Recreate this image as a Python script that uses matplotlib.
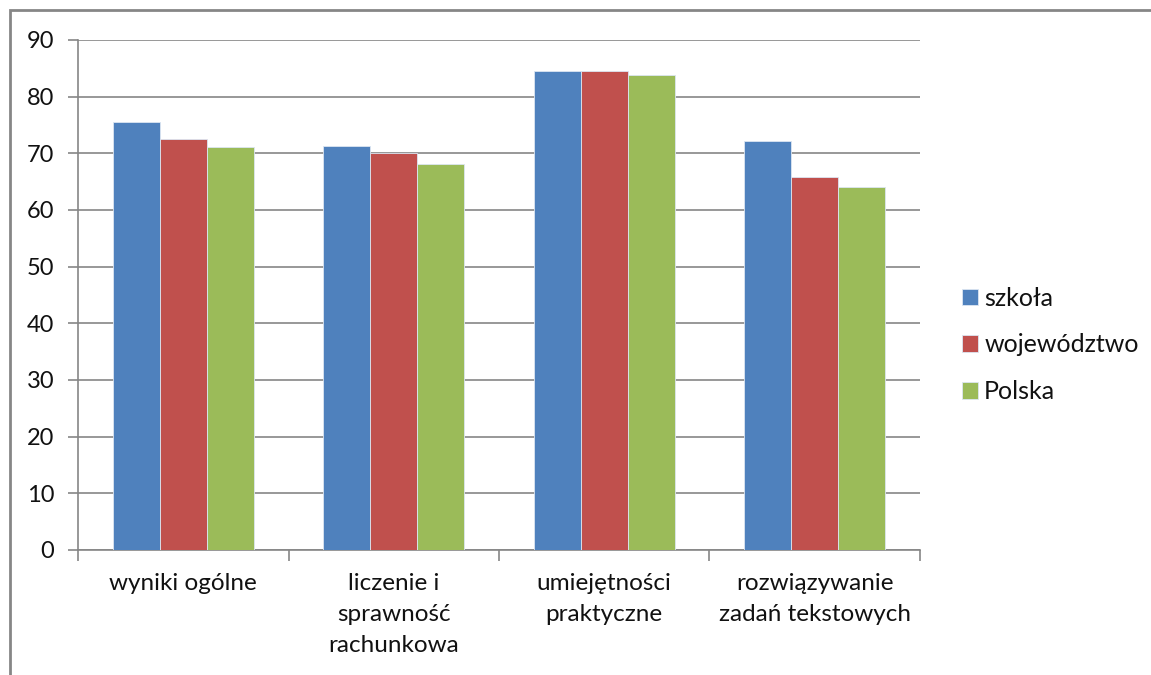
import matplotlib.pyplot as plt
import numpy as np
from matplotlib.patches import Rectangle

# Dane
kategorie = ['wyniki ogólne', 'liczenie i\nsprawność\nrachunkowa',
             'umiejętności\npraktyczne', 'rozwiązywanie\nzadań tekstowych']
szkola = [75.6, 71.3, 84.6, 72.2]
wojewodztwo = [72.6, 70.1, 84.6, 65.9]
polska = [71.1, 68.1, 83.8, 64.1]
serie = ['szkoła', 'województwo', 'Polska']
kolory = ['#4F81BD', '#C0504D', '#9BBB59']

plt.rcParams['font.family'] = ['Lato', 'DejaVu Sans']

fig = plt.figure(figsize=(11.51, 6.75), dpi=100)
ax = fig.add_axes([78 / 1151, 1 - 550 / 675, 842 / 1151, 510 / 675])

x = np.arange(len(kategorie))
szer = 0.223
for i, (wart, nazwa) in enumerate(zip([szkola, wojewodztwo, polska], serie)):
    ax.bar(x + (i - 1) * szer, wart, szer, color=kolory[i], label=nazwa,
           edgecolor='#dce6f2', linewidth=0.6, zorder=3)

ax.set_xlim(-0.5, len(kategorie) - 0.5)
ax.set_ylim(0, 90)
ax.set_yticks(range(0, 91, 10))
ax.yaxis.grid(True, color='#868686', linewidth=1.2, zorder=0)
ax.set_axisbelow(True)

for s in ['top', 'right']:
    ax.spines[s].set_visible(False)
ax.spines['left'].set_color('#868686')
ax.spines['bottom'].set_color('#868686')
ax.spines['left'].set_linewidth(1.2)
ax.spines['bottom'].set_linewidth(1.2)

# ticki kategorii na granicach
ax.set_xticks(np.arange(-0.5, len(kategorie), 1))
ax.set_xticklabels([])
ax.tick_params(axis='x', length=8, width=1.2, color='#868686', direction='out')
ax.tick_params(axis='y', length=7, width=1.2, color='#868686', direction='out',
               labelsize=17, pad=10, labelcolor='#111111')
for xi, k in zip(x, kategorie):
    ax.text(xi, -4.0, k, ha='center', va='top', fontsize=17.5,
            linespacing=1.6, color='#111111')

fig.legend(loc='center left', bbox_to_anchor=(962 / 1151, 1 - 345 / 675),
           frameon=False, fontsize=18, handlelength=0.64, handleheight=0.64,
           labelspacing=0.95, handletextpad=0.25, borderpad=0, borderaxespad=0,
           labelcolor='#111111')

# ramka wykresu
fig.patches.append(Rectangle((10 / 1151, -0.1), 1.2, 1 - 10 / 675 + 0.1,
                             transform=fig.transFigure, fill=False,
                             edgecolor='#868686', linewidth=2))

plt.savefig('out.png', dpi=100)
